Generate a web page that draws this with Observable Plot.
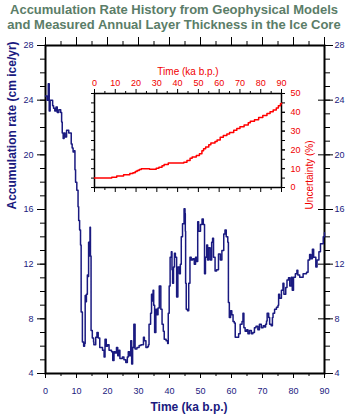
<!DOCTYPE html>
<html><head><meta charset="utf-8">
<script src="https://cdn.jsdelivr.net/npm/d3@7"></script>
<script src="https://cdn.jsdelivr.net/npm/@observablehq/plot@0.6"></script>
<style>
body{margin:0;background:#fff;}
#wrap{position:relative;width:349px;height:417px;overflow:hidden;background:#fff;}
#wrap svg{position:absolute;}
</style></head><body><div id="wrap"></div>
<script>
// ---- data ----
const titleLines = ["Accumulation Rate History from Geophysical Models", "and Measured Annual Layer Thickness in the Ice Core"];
const yLabel = "Accumulation rate (cm ice/yr)";
const xLabel = "Time (ka b.p.)";
const insetYLabel = "Uncertainty (%)";

const timeKa = [0,0.5,0.9,1.1,1.2,1.5,2.0,2.3,2.6,3.0,3.4,3.8,4.3,4.9,5.2,5.4,5.7,6.0,6.3,6.8,7.5,8.0,8.3,8.6,8.9,9.3,9.5,9.7,10.1,10.5,10.7,11.0,11.3,11.5,11.9,12.3,12.6,12.8,13.0,13.2,13.5,13.8,13.9,14.1,14.35,14.5,14.7,15.1,15.5,15.6,16.2,16.6,17.0,17.5,18.1,18.4,18.9,19.2,19.6,20.0,20.5,21.3,21.7,22.1,22.5,22.9,23.3,23.7,24.0,24.8,25.3,25.9,26.4,26.7,27.1,27.5,27.8,28.1,28.5,28.9,29.5,30.2,30.8,31.6,31.9,32.4,32.9,33.2,33.4,33.9,34.2,34.5,34.7,34.9,35.2,35.6,36.0,36.3,36.7,37.2,37.6,38.0,38.3,38.9,39.4,39.6,39.9,40.2,40.6,40.8,41.0,41.3,41.6,41.9,42.3,42.7,43.2,43.5,43.8,44.2,44.7,45.0,45.1,45.2,45.4,45.8,46.2,46.6,47.0,47.5,48.0,48.4,48.8,49.1,49.4,50.0,50.5,50.9,51.3,51.6,52.0,52.3,52.6,53.1,53.6,53.9,54.2,54.7,55.2,55.8,56.4,56.9,57.2,57.5,57.9,58.3,58.8,59.0,59.3,59.7,60.1,60.5,60.9,61.2,61.8,62.3,62.8,63.4,63.7,64.0,64.4,64.9,65.3,65.8,66.4,66.9,67.4,67.9,68.5,69.0,69.6,70.2,70.7,71.0,71.3,71.5,72.0,72.3,72.8,73.2,73.4,73.9,74.5,75.0,75.2,75.5,76.1,76.6,76.9,77.5,77.9,78.4,78.8,79.3,79.6,80.0,80.6,81.1,81.4,82.0,83.1,84.2,84.7,85.2,85.6,86.1,86.5,87.2,87.6,88.2,88.7,89.6,90.0];
const rate = [24.3,24.0,25.2,25.2,23.2,24.0,24.0,23.6,23.4,23.2,23.5,23.1,23.3,23.1,22.4,21.6,21.2,21.6,21.3,21.8,21.6,21.6,20.8,20.5,20.2,20.3,18.9,18.0,17.4,16.2,15.2,14.5,13.4,8.5,6.3,6.0,6.2,9.7,9.25,9.8,11.2,11.1,13.6,12.6,14.7,12.6,7.15,6.6,6.3,6.1,6.65,7.0,6.6,5.9,5.9,5.7,5.2,6.5,6.0,6.1,5.7,5.6,4.95,5.6,5.5,5.9,5.3,5.7,5.1,5.2,5.0,4.8,5.2,5.6,5.3,6.4,4.7,5.9,7.6,5.8,5.9,6.05,6.1,6.65,6.4,5.9,5.95,6.1,7.6,8.4,9.8,9.3,10.1,9.0,7.0,8.7,8.3,8.8,10.4,8.7,7.6,7.1,6.5,6.4,6.2,8.4,10.4,12.5,12.9,11.6,10.6,11.8,12.8,12.5,9.6,11.8,11.3,12.0,14.0,14.95,16.05,15.7,14.4,10.6,8.7,8.6,10.6,12.5,12.3,12.4,12.0,12.5,12.2,15.1,14.4,14.9,15.3,14.9,11.3,12.5,13.4,12.3,13.2,12.3,13.6,13.9,12.5,11.5,11.6,12.75,12.3,13.0,13.0,14.2,14.5,14.0,13.6,9.2,8.1,8.6,8.3,7.8,7.7,6.65,6.65,6.9,7.6,7.8,8.4,7.35,7.1,7.2,6.9,7.15,6.9,7.0,7.35,7.45,7.2,7.6,7.35,7.5,7.4,7.6,7.85,8.4,8.1,7.6,7.5,8.1,8.4,8.7,8.85,9.0,9.8,9.5,10.1,10.6,9.8,10.3,10.85,11.0,10.4,11.05,10.1,11.05,11.3,11.55,11.2,11.05,11.3,11.4,12.3,12.7,12.4,13.1,12.5,11.8,12.3,12.9,13.5,14.0,14.3];

const uncTime = [0,8.3,10.7,14,17,18.5,19.6,20.5,21.5,22.5,26.5,29.7,31,32.5,33.5,35.5,43,44.5,46,47,49,50.5,51.7,52.5,53.5,55,56,58,59,60.5,62,63.7,65,67,68.5,70,72,74,75,77,79,81,83,84.5,86,87.5,88.5,89.5,90];
const uncPct  = [5,5.4,6.1,6.8,7.5,7.9,8.5,9.0,9.6,10.0,9.7,10.2,10.8,11.6,12.3,13.0,13.4,14.4,15.6,16.2,17,18,19.5,20.6,21.6,22.7,23.7,24.5,25.3,26.7,27.7,28.4,29.3,30.4,31.4,32.3,33.3,34.5,35.2,36,37.2,38.3,39.3,40.3,41.2,42.3,43.5,44.5,44.8];

const timeTicks = [0,10,20,30,40,50,60,70,80,90];
const timeMinor = [5,15,25,35,45,55,65,75,85];
const rateTicks = [4,8,12,16,20,24,28];
const rateMinor = d3.range(4, 29, 1);
const uncTicks = [0,10,20,30,40,50];
const uncMinor = [0,5,10,15,20,25,30,35,40,45,50];

// ---- styles ----
const navy = "#1a1a80";
const green = "#5b7d68";
const red = "#f00000";
const font = "'Liberation Sans', Arial, sans-serif";
const blank = () => "";

const main = Plot.plot({
  width: 349, height: 417,
  marginLeft: 45, marginRight: 25, marginTop: 45, marginBottom: 44,
  style: {fontFamily: font, fontSize: "9px", background: "transparent", overflow: "visible"},
  x: {domain: [0, 90]},
  y: {domain: [4, 28]},
  marks: [
    Plot.axisX({anchor: "bottom", ticks: timeTicks, tickSize: 5, tickPadding: 9, fill: navy, stroke: "black", label: null}),
    Plot.axisX({anchor: "bottom", ticks: timeMinor, tickSize: 3, tickFormat: blank, label: null}),
    Plot.axisX({anchor: "top", ticks: timeTicks, tickSize: 9, tickFormat: blank, label: null}),
    Plot.axisX({anchor: "top", ticks: timeMinor, tickSize: 5, tickFormat: blank, label: null}),
    Plot.axisY({anchor: "left", ticks: rateTicks, tickSize: 8, tickPadding: 4, fill: navy, stroke: "black", label: null}),
    Plot.axisY({anchor: "left", ticks: rateMinor, tickSize: 5, tickFormat: blank, label: null}),
    Plot.axisY({anchor: "right", ticks: rateTicks, tickSize: 8, tickPadding: 2, fill: navy, stroke: "black", label: null}),
    Plot.axisY({anchor: "right", ticks: rateTicks, tickSize: -7, tickFormat: blank, label: null}),
    Plot.axisY({anchor: "right", ticks: rateMinor, tickSize: 5, tickFormat: blank, label: null}),
    Plot.frame({stroke: "black", strokeWidth: 2}),
    Plot.line(timeKa, {x: timeKa, y: rate, curve: "step-after", stroke: navy, strokeWidth: 1.5}),
    Plot.text([yLabel], {frameAnchor: "left", rotate: -90, dx: -33, fontSize: 12, fontWeight: "bold", fill: navy}),
    Plot.text([xLabel], {frameAnchor: "bottom", dy: 37, dx: 4, fontSize: 12, fontWeight: "bold", fill: navy}),
    Plot.text([titleLines.join("\n")], {frameAnchor: "top", lineAnchor: "top", lineHeight: 1.15, dy: -42, dx: -11, fontSize: 13, fontWeight: "bold", fill: green})
  ]
});
main.style.left = "0px"; main.style.top = "0px";

const inset = Plot.plot({
  width: 289, height: 150,
  marginLeft: 34, marginRight: 68, marginTop: 38, marginBottom: 18,
  style: {fontFamily: font, fontSize: "9px", background: "transparent", overflow: "visible"},
  x: {domain: [0, 90]},
  y: {domain: [0, 50]},
  marks: [
    Plot.axisX({anchor: "top", ticks: timeTicks, tickSize: 5, tickPadding: 3, fill: red, stroke: "black", label: null}),
    Plot.axisX({anchor: "top", ticks: timeMinor, tickSize: 3, tickFormat: blank, label: null}),
    Plot.axisX({anchor: "bottom", ticks: timeTicks, tickSize: 5, tickFormat: blank, label: null}),
    Plot.axisX({anchor: "bottom", ticks: timeMinor, tickSize: 3, tickFormat: blank, label: null}),
    Plot.axisY({anchor: "left", ticks: uncMinor, tickSize: 3, tickFormat: blank, label: null}),
    Plot.axisY({anchor: "right", ticks: uncMinor, tickSize: 3, tickFormat: blank, label: null}),
    Plot.axisY({anchor: "right", ticks: uncTicks, tickSize: 3, tickPadding: 6, fill: red, stroke: "black", label: null}),
    Plot.frame({stroke: "black", strokeWidth: 1.5}),
    Plot.line(uncTime, {x: uncTime, y: uncPct, curve: "step-after", stroke: "#ff0000", strokeWidth: 1.5}),
    Plot.text([xLabel], {frameAnchor: "top", dy: -26, fontSize: 10, fill: red}),
    Plot.text([insetYLabel], {frameAnchor: "right", rotate: -90, dx: 28, fontSize: 10, fill: red})
  ]
});
inset.style.left = "60px"; inset.style.top = "55px";

const wrap = document.getElementById("wrap");
wrap.appendChild(main);
wrap.appendChild(inset);
</script>
</body></html>
